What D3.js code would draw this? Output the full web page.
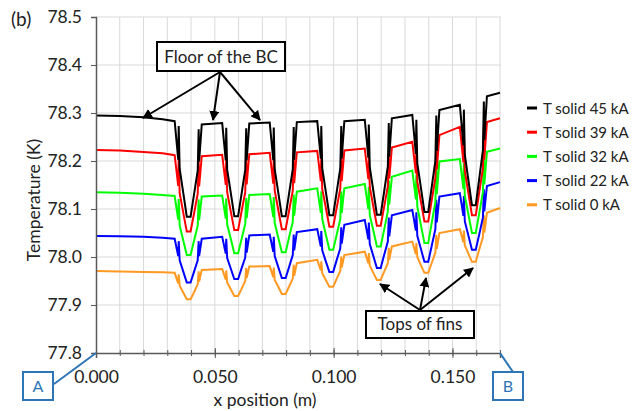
<!DOCTYPE html>
<html><head><meta charset="utf-8">
<script src="https://cdn.jsdelivr.net/npm/d3@7"></script>
<style>body{margin:0;background:#fff}svg{display:block}text{font-family:Lato,"Open Sans",sans-serif}</style>
</head><body>
<svg id="chart" width="638" height="411"></svg>
<script>
const xPos = [0, 0.01, 0.02, 0.028,
0.0331,0.0346,0.0348,0.0352,0.0367,0.0382,0.0398,0.0413,0.0428,0.0432,0.0434,0.0445,
0.0531,0.0546,0.0548,0.0552,0.0567,0.0582,0.0598,0.0613,0.0628,0.0632,0.0634,0.0645,
0.0731,0.0746,0.0748,0.0752,0.0767,0.0782,0.0798,0.0813,0.0828,0.0832,0.0834,0.0845,
0.0931,0.0946,0.0948,0.0952,0.0967,0.0982,0.0998,0.1013,0.1028,0.1032,0.1034,0.1045,
0.1131,0.1146,0.1148,0.1152,0.1167,0.1182,0.1198,0.1213,0.1228,0.1232,0.1234,0.1245,
0.1331,0.1346,0.1348,0.1352,0.1367,0.1382,0.1398,0.1413,0.1428,0.1432,0.1434,0.1445,
0.1531,0.1546,0.1548,0.1552,0.1567,0.1582,0.1598,0.1613,0.1628,0.1632,0.1634,0.1645,
0.17];

const t45 = [78.295, 78.294, 78.291, 78.287,
78.283, 78.203, 78.273, 78.184, 78.134, 78.084, 78.084, 78.132, 78.180, 78.266, 78.199, 78.276,
78.279, 78.201, 78.269, 78.182, 78.134, 78.085, 78.085, 78.133, 78.182, 78.268, 78.201, 78.278,
78.280, 78.202, 78.270, 78.183, 78.134, 78.085, 78.085, 78.134, 78.183, 78.271, 78.203, 78.281,
78.283, 78.205, 78.273, 78.185, 78.136, 78.087, 78.087, 78.136, 78.185, 78.273, 78.205, 78.283,
78.286, 78.207, 78.276, 78.187, 78.138, 78.088, 78.088, 78.138, 78.189, 78.279, 78.209, 78.289,
78.296, 78.215, 78.286, 78.195, 78.145, 78.094, 78.094, 78.147, 78.200, 78.295, 78.221, 78.306,
78.317, 78.233, 78.307, 78.213, 78.160, 78.108, 78.108, 78.165, 78.222, 78.324, 78.244, 78.335,
78.342];

const t39 = [78.223, 78.222, 78.219, 78.216,
78.212, 78.148, 78.204, 78.133, 78.093, 78.053, 78.053, 78.092, 78.132, 78.202, 78.147, 78.210,
78.213, 78.150, 78.205, 78.135, 78.095, 78.056, 78.056, 78.096, 78.135, 78.206, 78.151, 78.214,
78.217, 78.153, 78.209, 78.138, 78.098, 78.058, 78.058, 78.098, 78.138, 78.210, 78.154, 78.218,
78.221, 78.158, 78.213, 78.142, 78.103, 78.063, 78.063, 78.103, 78.143, 78.214, 78.158, 78.222,
78.226, 78.162, 78.218, 78.146, 78.105, 78.065, 78.065, 78.106, 78.147, 78.220, 78.163, 78.228,
78.240, 78.174, 78.232, 78.157, 78.116, 78.074, 78.074, 78.119, 78.164, 78.245, 78.182, 78.254,
78.271, 78.197, 78.262, 78.179, 78.133, 78.087, 78.087, 78.136, 78.184, 78.271, 78.203, 78.281,
78.289];

const t32 = [78.135, 78.134, 78.132, 78.129,
78.127, 78.078, 78.121, 78.066, 78.035, 78.004, 78.004, 78.035, 78.065, 78.120, 78.077, 78.126,
78.128, 78.080, 78.122, 78.068, 78.038, 78.008, 78.008, 78.038, 78.069, 78.123, 78.081, 78.129,
78.131, 78.083, 78.125, 78.071, 78.040, 78.010, 78.010, 78.042, 78.073, 78.130, 78.086, 78.136,
78.143, 78.092, 78.137, 78.079, 78.047, 78.015, 78.015, 78.047, 78.079, 78.137, 78.092, 78.143,
78.152, 78.100, 78.146, 78.087, 78.055, 78.022, 78.022, 78.058, 78.095, 78.160, 78.109, 78.167,
78.180, 78.120, 78.172, 78.105, 78.067, 78.029, 78.029, 78.072, 78.114, 78.191, 78.131, 78.199,
78.204, 78.142, 78.196, 78.127, 78.089, 78.050, 78.050, 78.092, 78.135, 78.211, 78.151, 78.219,
78.226];

const t22 = [78.044, 78.043, 78.042, 78.040,
78.038, 78.002, 78.033, 77.993, 77.970, 77.947, 77.947, 77.970, 77.993, 78.033, 78.002, 78.038,
78.042, 78.007, 78.038, 77.998, 77.976, 77.954, 77.954, 77.977, 77.999, 78.040, 78.009, 78.045,
78.047, 78.011, 78.042, 78.002, 77.979, 77.956, 77.956, 77.980, 78.004, 78.047, 78.014, 78.052,
78.058, 78.022, 78.054, 78.014, 77.991, 77.969, 77.969, 77.994, 78.018, 78.062, 78.028, 78.067,
78.077, 78.037, 78.072, 78.027, 78.002, 77.977, 77.977, 78.005, 78.032, 78.082, 78.043, 78.087,
78.098, 78.055, 78.093, 78.044, 78.017, 77.990, 77.990, 78.024, 78.058, 78.119, 78.072, 78.126,
78.133, 78.086, 78.127, 78.074, 78.045, 78.015, 78.015, 78.048, 78.082, 78.141, 78.095, 78.148,
78.156];

const t0 = [77.971, 77.970, 77.969, 77.968,
77.967, 77.945, 77.964, 77.940, 77.926, 77.912, 77.912, 77.927, 77.943, 77.970, 77.949, 77.973,
77.975, 77.953, 77.972, 77.947, 77.933, 77.919, 77.919, 77.934, 77.950, 77.977, 77.956, 77.980,
77.981, 77.958, 77.978, 77.952, 77.938, 77.923, 77.923, 77.939, 77.955, 77.984, 77.961, 77.987,
77.994, 77.972, 77.991, 77.966, 77.952, 77.938, 77.938, 77.955, 77.971, 78.001, 77.978, 78.004,
78.011, 77.987, 78.008, 77.982, 77.967, 77.952, 77.952, 77.970, 77.987, 78.019, 77.994, 78.022,
78.032, 78.006, 78.029, 78.000, 77.983, 77.967, 77.967, 77.988, 78.009, 78.046, 78.017, 78.050,
78.058, 78.031, 78.055, 78.024, 78.007, 77.990, 77.990, 78.016, 78.041, 78.087, 78.051, 78.092,
78.102];

const seriesNames = ["T solid 45 kA", "T solid 39 kA", "T solid 32 kA", "T solid 22 kA", "T solid 0 kA"];
const seriesValues = [t45, t39, t32, t22, t0];
const seriesColors = ["#000000", "#ff0000", "#00ff00", "#0000ff", "#ff9922"];
const xMajorTicks = [0, 0.05, 0.10, 0.15];
const xGridTicks = [0.01,0.02,0.03,0.04,0.05,0.06,0.07,0.08,0.09,0.10,0.11,0.12,0.13,0.14,0.15,0.16,0.17];
const yTicks = [77.8, 77.9, 78.0, 78.1, 78.2, 78.3, 78.4, 78.5];

const svg = d3.select("#chart");
const L = 96, R = 500, T = 17, B = 353;
const x = d3.scaleLinear().domain([0, 0.17]).range([L, R]);
const y = d3.scaleLinear().domain([77.8, 78.5]).range([B, T]);

// grid
const grid = svg.append("g");
grid.selectAll(".gx").data(xGridTicks).join("line")
  .attr("x1", d => x(d)).attr("x2", d => x(d)).attr("y1", T).attr("y2", B)
  .attr("stroke", "#d9d9d9").attr("stroke-width", 1);
grid.selectAll(".gy").data(yTicks.slice(1)).join("line")
  .attr("x1", L).attr("x2", R + 1).attr("y1", d => y(d)).attr("y2", d => y(d))
  .attr("stroke", "#d9d9d9").attr("stroke-width", 1);

// series lines (draw last series first)
const line = d3.line().x(d => x(d[0])).y(d => y(d[1]));
for (let i = seriesValues.length - 1; i >= 0; i--) {
  const pts = xPos.map((xv, j) => [xv, seriesValues[i][j]]);
  svg.append("path").datum(pts).attr("d", line)
    .attr("fill", "none").attr("stroke", seriesColors[i]).attr("stroke-width", 2)
    .attr("stroke-linejoin", "miter");
}

// axes
const axisColor = "#595959";
const yAxis = svg.append("g").attr("transform", `translate(${L},0)`)
  .call(d3.axisLeft(y).tickValues(yTicks).tickFormat(d3.format(".1f")).tickSizeOuter(0).tickSize(5).tickPadding(9));
yAxis.select(".domain").attr("stroke", axisColor).attr("stroke-width", 1.5);
yAxis.selectAll(".tick line").attr("stroke", axisColor);
yAxis.selectAll("text").attr("font-size", 17.5).attr("fill", "#222").attr("font-family", "Lato");

const xMinor = svg.append("g").attr("transform", `translate(0,${B})`)
  .call(d3.axisBottom(x).tickValues(xGridTicks).tickFormat("").tickSizeOuter(0).tickSize(3));
xMinor.select(".domain").remove();
xMinor.selectAll(".tick line").attr("y1", -3).attr("stroke", axisColor);

const xAxis = svg.append("g").attr("transform", `translate(0,${B})`)
  .call(d3.axisBottom(x).tickValues(xMajorTicks).tickFormat(d3.format(".3f")).tickSizeOuter(0).tickSize(5));
xAxis.select(".domain").attr("stroke", axisColor).attr("stroke-width", 1.5);
xAxis.selectAll(".tick line").attr("y1", -5).attr("stroke", axisColor);
xAxis.selectAll("text").attr("font-size", 17.5).attr("fill", "#222").attr("font-family", "Lato")
  .attr("y", 30).attr("dy", null);

// axis titles
svg.append("text").attr("x", 265).attr("y", 406).attr("text-anchor", "middle")
  .attr("font-size", 17.5).attr("fill", "#222").text("x position (m)");
svg.append("text").attr("transform", "translate(40,200) rotate(-90)").attr("text-anchor", "middle")
  .attr("font-size", 17.5).attr("fill", "#222").text("Temperature (K)");
svg.append("text").attr("x", 11).attr("y", 26).attr("font-size", 19).attr("fill", "#222").text("(b)");

// legend
const leg = svg.append("g");
seriesNames.forEach((n, i) => {
  const yy = 108 + i * 24.2;
  leg.append("line").attr("x1", 527).attr("x2", 537).attr("y1", yy).attr("y2", yy)
    .attr("stroke", seriesColors[i]).attr("stroke-width", 3);
  leg.append("text").attr("x", 543).attr("y", yy + 5.5).attr("font-size", 15).attr("fill", "#222").text(n);
});

// annotations
const defs = svg.append("defs");
defs.append("marker").attr("id", "arr").attr("viewBox", "0 0 10 10").attr("refX", 9).attr("refY", 5)
  .attr("markerWidth", 5).attr("markerHeight", 5).attr("orient", "auto")
  .append("path").attr("d", "M0,0 L10,5 L0,10 z").attr("fill", "#000");

function arrow(x1, y1, x2, y2) {
  svg.append("line").attr("x1", x1).attr("y1", y1).attr("x2", x2).attr("y2", y2)
    .attr("stroke", "#000").attr("stroke-width", 2).attr("marker-end", "url(#arr)");
}
arrow(220, 72, 143, 118);
arrow(220, 72, 213, 120);
arrow(220, 72, 260, 120);
svg.append("rect").attr("x", 157).attr("y", 42).attr("width", 128).attr("height", 29)
  .attr("fill", "#fff").attr("stroke", "#000").attr("stroke-width", 2);
svg.append("text").attr("x", 221).attr("y", 62.5).attr("text-anchor", "middle").attr("font-size", 17)
  .attr("fill", "#222").text("Floor of the BC");

arrow(420, 310, 380, 284);
arrow(420, 310, 426, 278);
arrow(420, 310, 473, 268);
svg.append("rect").attr("x", 366).attr("y", 311).attr("width", 108).attr("height", 27)
  .attr("fill", "#fff").attr("stroke", "#000").attr("stroke-width", 2);
svg.append("text").attr("x", 420).attr("y", 330).attr("text-anchor", "middle").attr("font-size", 17)
  .attr("fill", "#222").text("Tops of fins");

// A / B markers
const blue = "#2e75b6";
svg.append("line").attr("x1", 54).attr("y1", 384).attr("x2", x(0)).attr("y2", B).attr("stroke", blue).attr("stroke-width", 2);
svg.append("rect").attr("x", 23).attr("y", 372).attr("width", 30).attr("height", 28)
  .attr("fill", "#fff").attr("stroke", blue).attr("stroke-width", 2);
svg.append("text").attr("x", 38).attr("y", 392).attr("text-anchor", "middle").attr("font-size", 16).attr("fill", blue).text("A");
svg.append("line").attr("x1", x(0.17)).attr("y1", B).attr("x2", 513).attr("y2", 372).attr("stroke", blue).attr("stroke-width", 2);
svg.append("rect").attr("x", 493).attr("y", 372).attr("width", 30).attr("height", 28)
  .attr("fill", "#fff").attr("stroke", blue).attr("stroke-width", 2);
svg.append("text").attr("x", 508).attr("y", 392).attr("text-anchor", "middle").attr("font-size", 16).attr("fill", blue).text("B");
</script>
</body></html>
